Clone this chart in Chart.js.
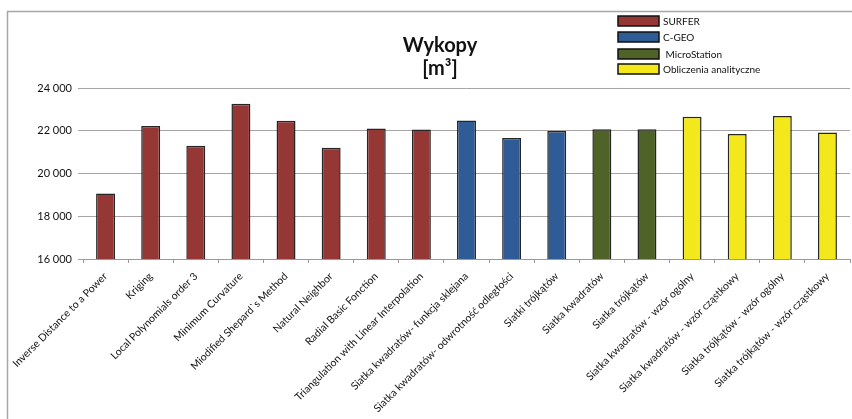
<!DOCTYPE html>
<html>
<head>
<meta charset="utf-8">
<title>Wykopy</title>
<script src="https://cdn.jsdelivr.net/npm/chart.js@4.4.1/dist/chart.umd.min.js"></script>
<style>
  html, body { margin: 0; padding: 0; background: #ffffff; }
  #wrap { width: 852px; height: 419px; position: relative; }
</style>
</head>
<body>
<div id="wrap"><canvas id="c" width="852" height="419"></canvas></div>
<script>
// Excavation volume [m³] computed by each method
const categories = [
  "Inverse Distance to a Power",
  "Kriging",
  "Local Polynomials order 3",
  "Minimum Curvature",
  "Miodified Shepard`s Method",
  "Natural Neighbor",
  "Radial Basic Fonction",
  "Triangulation with Linear Interpolation",
  "Siatka kwadratów- funkcja sklejana",
  "Siatka kwadratów- odwrotność odległości",
  "Siatki trójkątów",
  "Siatka kwadratów",
  "Siatka trójkątów",
  "Siatka kwadratów - wzór ogólny",
  "Siatka kwadratów - wzór cząstkowy",
  "Siatka trójkątów - wzór ogólny",
  "Siatka trójkątów - wzór cząstkowy"
];

const surferValues       = [19060, 22220, 21300, 23260, 22470, 21200, 22100, 22060];
const cgeoValues         = [22480, 21660, 21990];
const microstationValues = [22070, 22070];
const analyticValues     = [22660, 21850, 22690, 21920];

const seriesNames  = ["SURFER", "C-GEO", " MicroStation", "Obliczenia analityczne"];
const seriesColors = ["#953735", "#2F5B96", "#4F6228", "#F2E81C"];

const yTicks = [16000, 18000, 20000, 22000, 24000];

// Place each group's values in its own slice of the category list
const groups = [surferValues, cgeoValues, microstationValues, analyticValues];
let offset = 0;
const datasets = groups.map((vals, gi) => {
  const data = categories.map(() => null);
  vals.forEach((v, i) => { data[offset + i] = v; });
  offset += vals.length;
  return {
    label: seriesNames[gi],
    data: data,
    backgroundColor: seriesColors[gi],
    borderColor: "#262626",
    borderWidth: 1.5,
    categoryPercentage: 1.0,
    barPercentage: 0.42,
    skipNull: true
  };
});

const FONT = '"Lato", "Open Sans", sans-serif';

// Outer frame, title and legend
const decor = {
  id: "decor",
  beforeDraw(chart) {
    const ctx = chart.ctx;
    ctx.save();
    ctx.fillStyle = "#ffffff";
    ctx.fillRect(0, 0, chart.width, chart.height);
    ctx.strokeStyle = "#a6a6a6";
    ctx.lineWidth = 1.5;
    ctx.strokeRect(7.5, 11.5, 900, 500);
    ctx.restore();
  },
  afterDraw(chart) {
    const ctx = chart.ctx;
    ctx.save();
    ctx.fillStyle = "#111111";
    ctx.textAlign = "center";
    ctx.textBaseline = "middle";
    ctx.font = 'bold 20px ' + FONT;
    ctx.fillText("Wykopy", 440, 46);
    ctx.fillText("[m³]", 440, 69);

    const rows = [16, 32, 49, 64];
    ctx.textAlign = "left";
    ctx.font = '10px ' + FONT;
    chart.data.datasets.forEach((ds, i) => {
      const y = rows[i];
      ctx.fillStyle = ds.backgroundColor;
      ctx.fillRect(618, y, 41, 10);
      ctx.strokeStyle = "#111111";
      ctx.lineWidth = 1.5;
      ctx.strokeRect(618, y, 41, 10);
      ctx.fillStyle = "#111111";
      ctx.fillText(ds.label, 663, y + 5.5);
    });
    ctx.restore();
  }
};

new Chart(document.getElementById("c"), {
  type: "bar",
  data: { labels: categories, datasets: datasets },
  plugins: [decor],
  options: {
    responsive: false,
    animation: false,
    devicePixelRatio: 1,
    layout: { padding: { left: 0, top: 88, right: 2, bottom: 0 } },
    plugins: {
      legend: { display: false },
      title: { display: false },
      tooltip: { enabled: false }
    },
    scales: {
      x: {
        offset: true,
        afterFit(scale) { scale.height = 160; },
        grid: {
          offset: true,
          drawOnChartArea: false,
          drawTicks: true,
          tickLength: 4,
          color: "#9a9a9a"
        },
        border: { display: true, color: "#9a9a9a", width: 1 },
        ticks: {
          autoSkip: false,
          minRotation: 45,
          maxRotation: 45,
          padding: 7,
          color: "#111111",
          font: { family: FONT, size: 10.5 }
        }
      },
      y: {
        min: 16000,
        max: 24000,
        afterFit(scale) { scale.width = 83; },
        afterBuildTicks(scale) { scale.ticks = yTicks.map(v => ({ value: v })); },
        grid: {
          color: "#aaa3a3",
          lineWidth: 1,
          drawTicks: true,
          tickLength: 5
        },
        border: { display: false },
        ticks: {
          padding: 6,
          color: "#111111",
          font: { family: FONT, size: 11 },
          callback: (v) => String(v).replace(/\B(?=(\d{3})+(?!\d))/g, " ")
        }
      }
    }
  }
});
</script>
</body>
</html>
